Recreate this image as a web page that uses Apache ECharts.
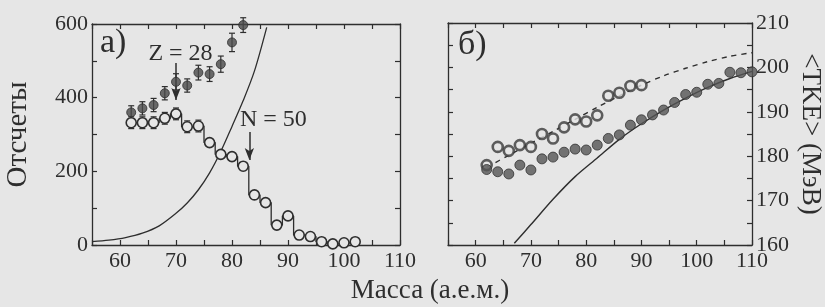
<!DOCTYPE html>
<html><head><meta charset="utf-8">
<script src="https://cdn.jsdelivr.net/npm/echarts@6/dist/echarts.min.js"></script>
<style>html,body{margin:0;padding:0;background:#e6e6e6}#c{width:825px;height:307px}</style>
</head><body><div id="c"></div>
<script>
// ---- Panel а) : counts vs mass ----
const massOpenA = [62,64,66,68,70,72,74,76,78,80,82,84,86,88,90,92,94,96,98,100,102];
const countsOpenA = [332,332,332,344,356,321,323,278,246,240,214,136,115,54,79,27,23,9,3,6,9];
const errOpenA = [16,16,16,16,16,16,16,0,0,0,0,0,0,0,0,0,0,0,0,0,0];
const massFilledA = [62,64,66,68,70,72,74,76,78,80,82];
const countsFilledA = [360,371,380,412,443,433,468,464,491,550,597];
const errFilledA = [18,18,18,18,22,18,20,20,22,25,20];
const curveMassA = [55,58,61,64,67,70,72,74,76,78,80,82,84,86.2];
const curveCountsA = [9,13,20,32,52,86,114,150,196,254,322,392,472,591];
// ---- Panel б) : <TKE> vs mass ----
const massOpenB = [62,64,66,68,70,72,74,76,78,80,82,84,86,88,90];
const tkeOpenB = [178.0,182.1,181.2,182.5,182.1,185.0,184.0,186.5,188.3,187.8,189.2,193.6,194.3,195.8,196.0];
const massFilledB = [62,64,66,68,70,72,74,76,78,80,82,84,86,88,90,92,94,96,98,100,102,104,106,108,110];
const tkeFilledB = [177.0,176.5,176.0,178.0,176.9,179.4,179.8,180.9,181.6,181.4,182.5,184.0,184.8,187.0,188.2,189.3,190.4,192.1,193.9,194.4,196.2,196.4,198.9,198.8,199.0];
const solidMassB = [67,70,74,78,82,86,90,94,98,102,106,110];
const solidTkeB = [160.4,164.6,170.3,175.4,179.6,183.8,187.3,190.4,193.1,195.5,197.5,199.1];
const dashMassB = [62,66,70,74,78,82,86,90,94,98,102,106,110];
const dashTkeB = [177.5,180.2,182.9,185.6,188.3,191.0,193.6,196.0,198.1,199.8,201.3,202.5,203.3];
// tick labels
const xTicks = [60,70,80,90,100,110];
const yTicksA = [0,200,400,600];
const yTicksB = [160,170,180,190,200,210];

const INK = '#2e2e2e', BG = '#e6e6e6', FONT = 'Liberation Serif';
const zip = (a,b) => a.map((v,i)=>[v,b[i]]);

function errBars(xs, vs, es, xi, yi) {
  return {
    type:'custom', xAxisIndex:xi, yAxisIndex:yi, z:3, clip:false,
    encode:{x:0,y:[1,2]},
    data: xs.map((x,i)=>[x, vs[i]-es[i], vs[i]+es[i]]).filter((d,i)=>es[i]>0),
    renderItem:(params, api)=>{
      const lo = api.coord([api.value(0), api.value(1)]);
      const hi = api.coord([api.value(0), api.value(2)]);
      const w = 3;
      const st = {stroke:INK, lineWidth:1.2};
      return {type:'group', children:[
        {type:'line', shape:{x1:lo[0],y1:lo[1],x2:hi[0],y2:hi[1]}, style:st},
        {type:'line', shape:{x1:lo[0]-w,y1:lo[1],x2:lo[0]+w,y2:lo[1]}, style:st},
        {type:'line', shape:{x1:hi[0]-w,y1:hi[1],x2:hi[0]+w,y2:hi[1]}, style:st}
      ]};
    }
  };
}

function xAx(grid, pos, labels) {
  return {
    type:'value', gridIndex:grid, position:pos, min:55, max:110, interval:5,
    axisLine:{show:true, onZero:false, lineStyle:{color:INK, width:1.3}},
    axisTick:{show:true, inside:true, length:5, lineStyle:{color:INK, width:1.2}},
    axisLabel:{show:labels, color:INK, fontFamily:FONT, fontSize:22, margin:5,
      formatter:v=> xTicks.includes(v) ? String(v) : ''},
    splitLine:{show:false}
  };
}
function yAx(grid, pos, labels, min, max, interval, ticks, extra) {
  return Object.assign({
    type:'value', gridIndex:grid, position:pos, min:min, max:max, interval:interval,
    axisLine:{show:true, onZero:false, lineStyle:{color:INK, width:1.3}},
    axisTick:{show:true, inside:true, length:5, lineStyle:{color:INK, width:1.2}},
    axisLabel:{show:labels, color:INK, fontFamily:FONT, fontSize:22, margin:4,
      formatter:v=> ticks.includes(v) ? String(v) : ''},
    splitLine:{show:false}
  }, extra||{});
}

const chart = echarts.init(document.getElementById('c'), null, {renderer:'canvas'});
chart.setOption({
  backgroundColor: BG,
  animation:false,
  textStyle:{fontFamily:FONT, color:INK},
  grid:[
    {left:92, top:24, width:308, height:221},
    {left:448, top:23, width:310, height:222}
  ],
  xAxis:[ xAx(0,'bottom',true), xAx(0,'top',false), xAx(1,'bottom',true), xAx(1,'top',false) ],
  yAxis:[
    yAx(0,'left',true,0,600,100,yTicksA,{name:'Отсчеты', nameLocation:'middle', nameGap:59,
      nameTextStyle:{fontFamily:FONT, fontSize:29, color:INK}}),
    yAx(0,'right',false,0,600,100,yTicksA),
    yAx(1,'right',true,160,210,5,yTicksB,{name:'<TKE> (МэВ)', nameLocation:'middle', nameGap:45, nameRotate:-90,
      nameTextStyle:{fontFamily:FONT, fontSize:27, color:INK}}),
    yAx(1,'left',false,160,210,5,yTicksB)
  ],
  graphic:[
    {type:'text', left:100, top:26, style:{text:'а)', fontFamily:FONT, fontSize:34, fill:INK}},
    {type:'text', left:458, top:28, style:{text:'б)', fontFamily:FONT, fontSize:34, fill:INK}},
    {type:'text', x:430, y:291, style:{text:'Масса (а.е.м.)', fontFamily:FONT, fontSize:27, fill:INK,
      align:'center', verticalAlign:'middle'}}
  ],
  series:[
    // panel a: model curve
    {type:'line', xAxisIndex:0, yAxisIndex:0, data:zip(curveMassA,curveCountsA), smooth:0.3,
     showSymbol:false, lineStyle:{color:INK, width:1.3}, z:2},
    // panel a: open circles with step line
    {type:'line', xAxisIndex:0, yAxisIndex:0, data:zip(massOpenA,countsOpenA), step:'middle',
     symbol:'circle', symbolSize:10, lineStyle:{color:INK, width:1.3},
     itemStyle:{color:BG, borderColor:INK, borderWidth:1.6}, z:4,
     markLine:{silent:true, symbol:['none','arrow'], symbolSize:[7,12],
       lineStyle:{color:INK, width:1.5, type:'solid'}, label:{show:false},
       data:[ [{coord:[70,494]},{coord:[70,394]}], [{coord:[83.1,307]},{coord:[83.1,231]}] ]},
     markPoint:{silent:true, symbol:'circle', symbolSize:2,
       itemStyle:{color:'rgba(0,0,0,0)', borderWidth:0},
       label:{show:true, position:'inside', color:INK, fontFamily:FONT, fontSize:24, formatter:p=>p.name},
       data:[ {name:'Z = 28', coord:[70.8,519]}, {name:'N = 50', coord:[87.4,339]} ]}},
    errBars(massOpenA, countsOpenA, errOpenA, 0, 0),
    // panel a: filled circles
    {type:'scatter', xAxisIndex:0, yAxisIndex:0, data:zip(massFilledA,countsFilledA), clip:false,
     symbol:'circle', symbolSize:9, itemStyle:{color:'#4a4a4a', borderColor:INK, borderWidth:1}, z:5},
    errBars(massFilledA, countsFilledA, errFilledA, 0, 0),
    // panel b: solid curve
    {type:'line', xAxisIndex:2, yAxisIndex:2, data:zip(solidMassB,solidTkeB), smooth:0.3,
     showSymbol:false, lineStyle:{color:INK, width:1.4}, z:2},
    // panel b: dashed curve
    {type:'line', xAxisIndex:2, yAxisIndex:2, data:zip(dashMassB,dashTkeB), smooth:0.3,
     showSymbol:false, lineStyle:{color:INK, width:1.4, type:[5,5]}, z:2},
    // panel b: open circles
    {type:'scatter', xAxisIndex:2, yAxisIndex:2, data:zip(massOpenB,tkeOpenB),
     symbol:'circle', symbolSize:10, itemStyle:{color:BG, borderColor:'#3a3a3a', borderWidth:2.6}, z:4},
    // panel b: filled circles
    {type:'scatter', xAxisIndex:2, yAxisIndex:2, data:zip(massFilledB,tkeFilledB), clip:false,
     symbol:'circle', symbolSize:10, itemStyle:{color:'#555', borderColor:'#333', borderWidth:1}, z:5}
  ]
});
</script></body></html>
